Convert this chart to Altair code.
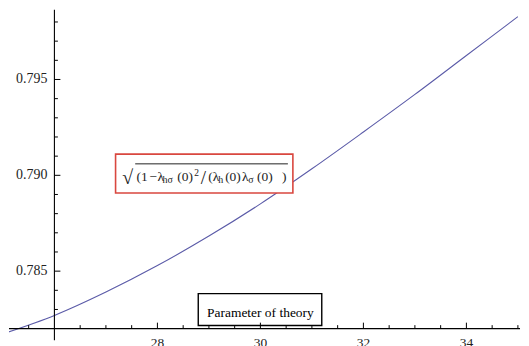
import altair as alt
import pandas as pd

# ---------------- data ----------------
x_vals = [25, 26, 27, 28, 29, 30, 31, 32, 33, 34, 35]
y_vals = [0.78173, 0.78269, 0.78391, 0.78529, 0.78683, 0.78851,
          0.79034, 0.79226, 0.79422, 0.79625, 0.79828]

x_major = [28, 30, 32, 34]
x_major_labels = ["28", "30", "32", "34"]
x_minor = [25.5, 26.5, 27, 27.5, 28.5, 29, 29.5, 30.5, 31, 31.5,
           32.5, 33, 33.5, 34.5, 35]
y_major = [0.785, 0.790, 0.795]
y_major_labels = ["0.785", "0.790", "0.795"]
y_minor = [0.783, 0.784, 0.786, 0.787, 0.788, 0.789, 0.791, 0.792,
           0.793, 0.794, 0.796, 0.797, 0.798]

origin_x = 26
origin_y = 0.782
x_domain = [25.118, 35.041]
y_domain = [0.781388, 0.798643]

x_label_text = "Parameter of theory"
x_label_at = [30, 0.782]
formula_at = [29, 0.790]
formula_pieces = ["√", "(1", "−", "λ", "hσ", "(0)", "2", "/", "(λ", "h",
                  "(0)", "λ", "σ", "(0)", ")"]

# ---------------- helpers ----------------
SERIF = "Liberation Serif"
xs = alt.Scale(domain=x_domain, nice=False, zero=False)
ys = alt.Scale(domain=y_domain, nice=False, zero=False)


def xd(v):
    return alt.XDatum(v, type="quantitative", scale=xs, axis=None)


def yd(v):
    return alt.YDatum(v, type="quantitative", scale=ys, axis=None)


def xf(f):
    return alt.X(f, type="quantitative", scale=xs, axis=None)


def yf(f):
    return alt.Y(f, type="quantitative", scale=ys, axis=None)


one = pd.DataFrame({"k": [0]})

# curve
line = alt.Chart(pd.DataFrame({"x": x_vals, "y": y_vals})).mark_line(
    color="#5b5ba8", strokeWidth=1.1, clip=True, interpolate="monotone"
).encode(x=xf("x"), y=yf("y"))

# boxes
red_box = alt.Chart(one).mark_rect(
    fill="white", stroke="#d9473f", strokeWidth=1.6,
    xOffset=-93.7, x2Offset=84.3, yOffset=-21.3, y2Offset=17.7
).encode(x=xd(formula_at[0]), x2=alt.X2Datum(formula_at[0]),
         y=yd(formula_at[1]), y2=alt.Y2Datum(formula_at[1]))

black_box = alt.Chart(one).mark_rect(
    fill="white", stroke="black", strokeWidth=1.4,
    xOffset=-62.4, x2Offset=61.6, yOffset=-35.2, y2Offset=-3.2
).encode(x=xd(x_label_at[0]), x2=alt.X2Datum(x_label_at[0]),
         y=yd(x_label_at[1]), y2=alt.Y2Datum(x_label_at[1]))

# axes lines
x_axis = alt.Chart(one).mark_rule(color="black", strokeWidth=1.1).encode(y=yd(origin_y))
y_axis = alt.Chart(one).mark_rule(color="black", strokeWidth=1.1).encode(x=xd(origin_x))

# ticks
x_major_ticks = alt.Chart(pd.DataFrame({"v": x_major})).mark_rule(
    color="black", strokeWidth=1, y2Offset=-6
).encode(x=xf("v"), y=yd(origin_y), y2=alt.Y2Datum(origin_y))
x_minor_ticks = alt.Chart(pd.DataFrame({"v": x_minor})).mark_rule(
    color="black", strokeWidth=1, y2Offset=-3.5
).encode(x=xf("v"), y=yd(origin_y), y2=alt.Y2Datum(origin_y))
y_major_ticks = alt.Chart(pd.DataFrame({"v": y_major})).mark_rule(
    color="black", strokeWidth=1, x2Offset=6
).encode(y=yf("v"), x=xd(origin_x), x2=alt.X2Datum(origin_x))
y_minor_ticks = alt.Chart(pd.DataFrame({"v": y_minor})).mark_rule(
    color="black", strokeWidth=1, x2Offset=3.5
).encode(y=yf("v"), x=xd(origin_x), x2=alt.X2Datum(origin_x))

# tick labels
x_labels = alt.Chart(pd.DataFrame({"v": x_major, "t": x_major_labels})).mark_text(
    font=SERIF, fontSize=13.5, color="#222", baseline="alphabetic", align="center", dy=18
).encode(x=xf("v"), y=yd(origin_y), text="t:N")
y_labels = alt.Chart(pd.DataFrame({"v": y_major, "t": y_major_labels})).mark_text(
    font=SERIF, fontSize=14, color="#222", baseline="middle", align="right", dx=-7
).encode(y=yf("v"), x=xd(origin_x), text="t:N")

# "Parameter of theory"
x_title = alt.Chart(pd.DataFrame({"t": [x_label_text]})).mark_text(
    font=SERIF, fontSize=13.5, color="black", baseline="alphabetic", align="center", dy=-12
).encode(x=xd(x_label_at[0]), y=yd(x_label_at[1]), text="t:N")

# formula pieces: (size, dx, dy)
piece_style = [
    (20, -87, 8.5),     # sqrt
    (13.5, -72.7, 5.4),  # (1
    (13.5, -59.7, 5.4),  # minus
    (13.5, -51.7, 5.4),  # lambda
    (10, -46.5, 7.8),    # h sigma
    (13.5, -31.7, 5.4),  # (0)
    (9.5, -14.7, 0.7),   # 2
    (19, -8.2, 8.5),     # /
    (13.5, -0.7, 5.4),   # (lambda
    (10, 9.5, 7.8),      # h
    (13.5, 16.3, 5.4),   # (0)
    (13.5, 33.3, 5.4),   # lambda
    (10, 39.5, 7.8),     # sigma
    (13.5, 48.3, 5.4),   # (0)
    (13.5, 73.3, 5.4),   # )
]
formula_layers = []
for piece, (sz, dx, dy) in zip(formula_pieces, piece_style):
    formula_layers.append(
        alt.Chart(pd.DataFrame({"t": [piece]})).mark_text(
            font=SERIF, fontSize=sz, color="#222", baseline="alphabetic",
            align="left", dx=dx, dy=dy
        ).encode(x=xd(formula_at[0]), y=yd(formula_at[1]), text="t:N")
    )
overline = alt.Chart(one).mark_rule(
    color="#222", strokeWidth=1, xOffset=-74, x2Offset=79.3, yOffset=-11.5, y2Offset=-11.5
).encode(x=xd(formula_at[0]), x2=alt.X2Datum(formula_at[0]),
         y=yd(formula_at[1]), y2=alt.Y2Datum(formula_at[1]))

chart = alt.layer(
    line, red_box, black_box, x_axis, y_axis,
    x_major_ticks, x_minor_ticks, y_major_ticks, y_minor_ticks,
    x_labels, y_labels, x_title, overline, *formula_layers
).properties(
    width=513, height=332, padding=0, background="white"
).configure_view(stroke=None)

chart.save("out.html", embed_options={"renderer": "svg", "actions": False})
